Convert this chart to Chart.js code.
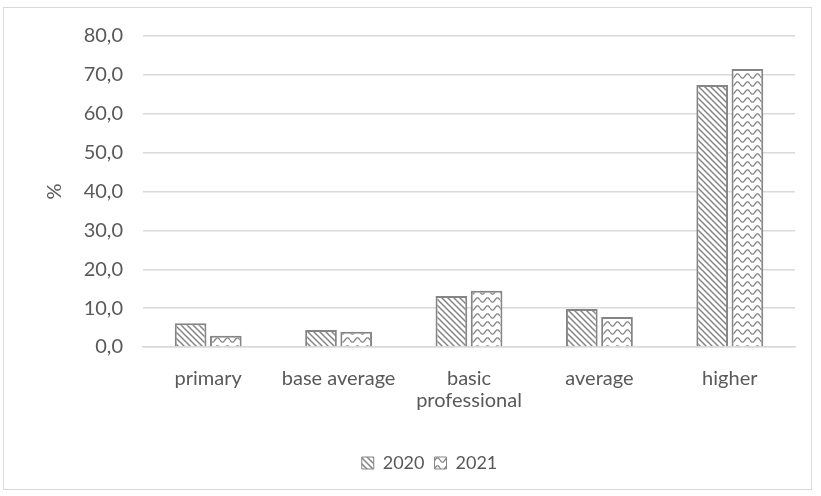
<!DOCTYPE html>
<html>
<head>
<meta charset="utf-8">
<script src="https://cdn.jsdelivr.net/npm/chart.js@4/dist/chart.umd.min.js"></script>
<style>
  html, body { margin: 0; padding: 0; background: #ffffff; }
  #wrap { position: relative; width: 821px; height: 496px; }
</style>
</head>
<body>
<div id="wrap"><canvas id="c" width="821" height="496"></canvas></div>
<script>
// ---- data ----
const categories = ["primary", "base average", ["basic", "professional"], "average", "higher"];
const series2020 = [6.1, 4.4, 13.1, 9.8, 67.4];
const series2021 = [2.9, 3.9, 14.5, 7.7, 71.5];
const seriesNames = ["2020", "2021"];
const yTicks = [0, 10, 20, 30, 40, 50, 60, 70, 80];

const GRAY = '#858585';
const TEXT = '#595959';

function diagPattern() {
  const s = 6;
  const c = document.createElement('canvas');
  c.width = s; c.height = s;
  const g = c.getContext('2d');
  g.fillStyle = '#ffffff'; g.fillRect(0, 0, s, s);
  g.strokeStyle = GRAY; g.lineWidth = 1.5;
  g.beginPath();
  for (let k = -1; k <= 1; k++) {
    g.moveTo(k * s - 1, -1);
    g.lineTo(k * s + s + 1, s + 1);
  }
  g.stroke();
  return g.createPattern(c, 'repeat');
}
function wavePattern() {
  const w = 10, h = 8;
  const c = document.createElement('canvas');
  c.width = w; c.height = h;
  const g = c.getContext('2d');
  g.fillStyle = '#ffffff'; g.fillRect(0, 0, w, h);
  g.strokeStyle = GRAY; g.lineWidth = 1.3;
  g.beginPath();
  for (let x = 0; x <= w; x += 0.5) {
    const y = 4 + 2.2 * Math.sin((x / w) * Math.PI * 2);
    if (x === 0) g.moveTo(x, y); else g.lineTo(x, y);
  }
  g.stroke();
  return g.createPattern(c, 'repeat');
}

const borderPlugin = {
  id: 'outerBorder',
  beforeDraw(chart) {
    const ctx = chart.ctx;
    ctx.save();
    ctx.fillStyle = '#ffffff';
    ctx.fillRect(0, 0, chart.width, chart.height);
    ctx.strokeStyle = '#d9d9d9';
    ctx.lineWidth = 1;
    ctx.strokeRect(3.5, 7.5, 808, 482);
    ctx.restore();
  }
};

// shift the legend block so it sits where the reference places it
const legendShift = {
  id: 'legendShift',
  afterLayout(chart) {
    const l = chart.legend;
    if (l) { l.left += 32; l.right += 32; }
  }
};

const fontFam = "Lato, 'Open Sans', sans-serif";

new Chart(document.getElementById('c'), {
  type: 'bar',
  data: {
    labels: categories,
    datasets: [
      { label: seriesNames[0], data: series2020, backgroundColor: diagPattern(), borderColor: GRAY, borderWidth: 2, categoryPercentage: 0.54, barPercentage: 0.9 },
      { label: seriesNames[1], data: series2021, backgroundColor: wavePattern(), borderColor: GRAY, borderWidth: 2, categoryPercentage: 0.54, barPercentage: 0.9 }
    ]
  },
  options: {
    responsive: false,
    animation: false,
    devicePixelRatio: 1,
    layout: { padding: { left: 0, right: 26, top: 36, bottom: 14 } },
    plugins: {
      legend: {
        position: 'bottom',
        labels: {
          color: TEXT,
          font: { family: fontFam, size: 18 },
          boxWidth: 12, boxHeight: 12, padding: 10,
          generateLabels(chart) {
            return chart.data.datasets.map((ds, i) => ({
              text: ds.label, fillStyle: ds.backgroundColor, strokeStyle: GRAY,
              lineWidth: 1, datasetIndex: i, fontColor: TEXT
            }));
          }
        }
      },
      tooltip: { enabled: false }
    },
    scales: {
      x: {
        afterFit(scale) { scale.height = 97; },
        grid: { display: false, drawTicks: false },
        border: { display: true, color: '#d9d9d9', width: 1.5 },
        ticks: { color: TEXT, font: { family: fontFam, size: 20, lineHeight: 1.1 }, padding: 21, maxRotation: 0, autoSkip: false }
      },
      y: {
        min: 0, max: 80,
        afterFit(scale) { scale.width = 143; },
        afterBuildTicks(scale) { scale.ticks = yTicks.map(v => ({ value: v })); },
        grid: { color: '#d9d9d9', lineWidth: 1.5, drawTicks: false },
        border: { display: false },
        ticks: {
          color: TEXT, font: { family: fontFam, size: 20 }, padding: 20,
          callback: v => v.toFixed(1).replace('.', ',')
        },
        title: { display: true, text: '%', color: TEXT, font: { family: fontFam, size: 20 }, padding: { top: 43, bottom: 0 } }
      }
    }
  },
  plugins: [borderPlugin, legendShift]
});
</script>
</body>
</html>
